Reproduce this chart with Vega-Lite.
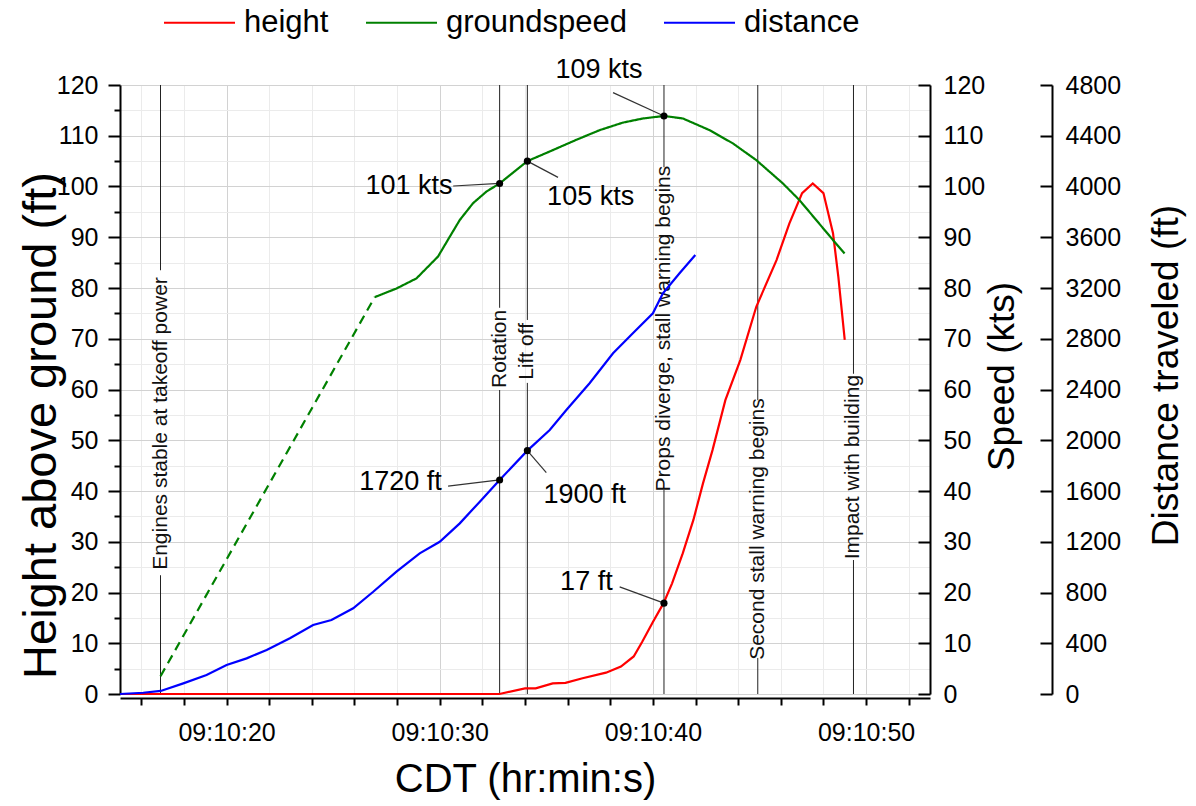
{
  "$schema": "https://vega.github.io/schema/vega-lite/v6.json",
  "width": 810,
  "height": 609,
  "autosize": "none",
  "padding": {"left": 120, "top": 85, "right": 266, "bottom": 112},
  "background": "white",
  "config": {
    "font": "Liberation Sans",
    "view": {"stroke": null},
    "axis": {
      "domainColor": "#000", "domainWidth": 2, "tickColor": "#000", "tickWidth": 2,
      "labelFont": "Liberation Sans", "labelFontSize": 25, "labelColor": "#000",
      "titleFont": "Liberation Sans", "titleFontWeight": "normal", "titleColor": "#000",
      "labelOverlap": false, "labelFlush": false, "labelBound": false
    },
    "legend": {
      "orient": "none", "direction": "horizontal", "legendX": 43, "legendY": -99,
      "symbolType": "stroke", "symbolSize": 5041, "symbolStrokeWidth": 2,
      "labelFont": "Liberation Sans", "labelFontSize": 31, "labelColor": "#000", "labelLimit": 0,
      "labelOffset": 8, "columnPadding": 33, "padding": 0
    }
  },
  "datasets": {
    "height": [
      {"t": 15, "v": 0, "series": "height"}, {"t": 20, "v": 0, "series": "height"}, {"t": 25, "v": 0, "series": "height"},
      {"t": 30, "v": 0, "series": "height"}, {"t": 32.8, "v": 0, "series": "height"}, {"t": 34.0, "v": 1.1, "series": "height"},
      {"t": 34.5, "v": 1.1, "series": "height"}, {"t": 35.3, "v": 2.1, "series": "height"}, {"t": 35.9, "v": 2.2, "series": "height"},
      {"t": 36.7, "v": 3.1, "series": "height"}, {"t": 37.8, "v": 4.2, "series": "height"}, {"t": 38.5, "v": 5.4, "series": "height"},
      {"t": 39.1, "v": 7.4, "series": "height"}, {"t": 39.5, "v": 10.3, "series": "height"}, {"t": 40.0, "v": 14.2, "series": "height"},
      {"t": 40.5, "v": 17.9, "series": "height"}, {"t": 40.9, "v": 21.8, "series": "height"}, {"t": 41.4, "v": 27.7, "series": "height"},
      {"t": 41.9, "v": 34.3, "series": "height"}, {"t": 42.35, "v": 41.5, "series": "height"}, {"t": 42.8, "v": 48.1, "series": "height"},
      {"t": 43.4, "v": 57.9, "series": "height"}, {"t": 44.1, "v": 65.8, "series": "height"}, {"t": 44.85, "v": 76.3, "series": "height"},
      {"t": 45.8, "v": 85.5, "series": "height"}, {"t": 46.4, "v": 92.7, "series": "height"}, {"t": 47.0, "v": 98.7, "series": "height"},
      {"t": 47.5, "v": 100.6, "series": "height"}, {"t": 48.0, "v": 98.7, "series": "height"}, {"t": 48.45, "v": 90.8, "series": "height"},
      {"t": 48.7, "v": 82.2, "series": "height"}, {"t": 49.0, "v": 69.8, "series": "height"}
    ],
    "speed": [
      {"t": 16.9, "v": 3.5, "series": "groundspeed", "seg": "dashed"},
      {"t": 26.95, "v": 78.2, "series": "groundspeed", "seg": "dashed"},
      {"t": 26.95, "v": 78.2, "series": "groundspeed", "seg": "solid"},
      {"t": 27.97, "v": 79.9, "series": "groundspeed", "seg": "solid"},
      {"t": 28.91, "v": 81.9, "series": "groundspeed", "seg": "solid"},
      {"t": 29.92, "v": 86.2, "series": "groundspeed", "seg": "solid"},
      {"t": 30.47, "v": 90.1, "series": "groundspeed", "seg": "solid"},
      {"t": 30.94, "v": 93.4, "series": "groundspeed", "seg": "solid"},
      {"t": 31.56, "v": 96.7, "series": "groundspeed", "seg": "solid"},
      {"t": 32.19, "v": 99.0, "series": "groundspeed", "seg": "solid"},
      {"t": 32.81, "v": 100.6, "series": "groundspeed", "seg": "solid"},
      {"t": 34.11, "v": 105.0, "series": "groundspeed", "seg": "solid"},
      {"t": 35.16, "v": 106.9, "series": "groundspeed", "seg": "solid"},
      {"t": 36.41, "v": 109.2, "series": "groundspeed", "seg": "solid"},
      {"t": 37.5, "v": 111.1, "series": "groundspeed", "seg": "solid"},
      {"t": 38.6, "v": 112.6, "series": "groundspeed", "seg": "solid"},
      {"t": 39.53, "v": 113.4, "series": "groundspeed", "seg": "solid"},
      {"t": 40.52, "v": 113.9, "series": "groundspeed", "seg": "solid"},
      {"t": 41.41, "v": 113.4, "series": "groundspeed", "seg": "solid"},
      {"t": 42.66, "v": 111.1, "series": "groundspeed", "seg": "solid"},
      {"t": 43.75, "v": 108.5, "series": "groundspeed", "seg": "solid"},
      {"t": 44.85, "v": 105.2, "series": "groundspeed", "seg": "solid"},
      {"t": 46.1, "v": 100.6, "series": "groundspeed", "seg": "solid"},
      {"t": 46.88, "v": 97.3, "series": "groundspeed", "seg": "solid"},
      {"t": 47.66, "v": 93.4, "series": "groundspeed", "seg": "solid"},
      {"t": 48.44, "v": 89.5, "series": "groundspeed", "seg": "solid"},
      {"t": 48.99, "v": 86.8, "series": "groundspeed", "seg": "solid"}
    ],
    "distance": [
      {"t": 15, "v": 0, "series": "distance"}, {"t": 16.09, "v": 10, "series": "distance"}, {"t": 16.91, "v": 24, "series": "distance"},
      {"t": 17.97, "v": 84, "series": "distance"}, {"t": 19.06, "v": 150, "series": "distance"}, {"t": 20.0, "v": 229, "series": "distance"},
      {"t": 20.94, "v": 281, "series": "distance"}, {"t": 21.88, "v": 347, "series": "distance"}, {"t": 22.97, "v": 439, "series": "distance"},
      {"t": 24.06, "v": 544, "series": "distance"}, {"t": 24.92, "v": 583, "series": "distance"}, {"t": 25.94, "v": 676, "series": "distance"},
      {"t": 26.88, "v": 806, "series": "distance"}, {"t": 27.97, "v": 964, "series": "distance"}, {"t": 29.06, "v": 1109, "series": "distance"},
      {"t": 30.0, "v": 1200, "series": "distance"}, {"t": 30.94, "v": 1345, "series": "distance"}, {"t": 31.88, "v": 1516, "series": "distance"},
      {"t": 32.81, "v": 1687, "series": "distance"}, {"t": 34.11, "v": 1918, "series": "distance"}, {"t": 35.16, "v": 2081, "series": "distance"},
      {"t": 35.94, "v": 2238, "series": "distance"}, {"t": 37.03, "v": 2449, "series": "distance"}, {"t": 38.13, "v": 2685, "series": "distance"},
      {"t": 39.06, "v": 2843, "series": "distance"}, {"t": 40.0, "v": 3001, "series": "distance"}, {"t": 40.47, "v": 3158, "series": "distance"},
      {"t": 41.25, "v": 3316, "series": "distance"}, {"t": 41.99, "v": 3460, "series": "distance"}
    ],
    "eventSegments": [
      {"t": 16.9, "y1": 0, "y2": 23.4}, {"t": 16.9, "y1": 83.5, "y2": 120},
      {"t": 32.81, "y1": 0, "y2": 59.9}, {"t": 32.81, "y1": 76.1, "y2": 120},
      {"t": 34.11, "y1": 0, "y2": 61.3}, {"t": 34.11, "y1": 73.7, "y2": 120},
      {"t": 40.52, "y1": 0, "y2": 40.2}, {"t": 40.52, "y1": 103.8, "y2": 120},
      {"t": 44.92, "y1": 0, "y2": 7.1}, {"t": 44.92, "y1": 57.9, "y2": 120},
      {"t": 49.41, "y1": 0, "y2": 26.4}, {"t": 49.41, "y1": 63.1, "y2": 120}
    ],
    "eventLabels": [
      {"t": 16.9, "v": 53.3, "label": "Engines stable at takeoff power"},
      {"t": 32.81, "v": 68.0, "label": "Rotation"},
      {"t": 34.11, "v": 67.5, "label": "Lift off"},
      {"t": 40.52, "v": 72.0, "label": "Props diverge, stall warning begins"},
      {"t": 44.92, "v": 32.5, "label": "Second stall warning begins"},
      {"t": 49.41, "v": 44.7, "label": "Impact with building"}
    ],
    "heightDots": [{"t": 40.52, "v": 17.9}],
    "heightLeaders": [{"t": 38.44, "v": 21.1, "t2": 40.52, "v2": 17.9}],
    "heightLabels": [{"t": 36.88, "v": 22.1, "label": "17 ft"}],
    "speedDots": [{"t": 32.81, "v": 100.6}, {"t": 34.11, "v": 105.0}, {"t": 40.52, "v": 113.9}],
    "speedLeaders": [
      {"t": 30.63, "v": 100.1, "t2": 32.81, "v2": 100.6},
      {"t": 34.11, "v": 105.0, "t2": 35.55, "v2": 101.8},
      {"t": 38.13, "v": 118.5, "t2": 40.52, "v2": 113.9}
    ],
    "speedLabels": [
      {"t": 28.56, "v": 100.1, "label": "101 kts"},
      {"t": 37.08, "v": 98.0, "label": "105 kts"},
      {"t": 37.47, "v": 123.0, "label": "109 kts"}
    ],
    "distDots": [{"t": 32.81, "v": 1687}, {"t": 34.11, "v": 1918}],
    "distLeaders": [
      {"t": 30.39, "v": 1639, "t2": 32.81, "v2": 1687},
      {"t": 34.11, "v": 1918, "t2": 35.0, "v2": 1744}
    ],
    "distLabels": [
      {"t": 28.16, "v": 1673, "label": "1720 ft"},
      {"t": 36.8, "v": 1569, "label": "1900 ft"}
    ]
  },
  "layer": [
    {
      "data": {"name": "eventSegments"},
      "mark": {"type": "rule", "color": "#222", "strokeWidth": 1},
      "encoding": {
        "x": {"field": "t", "type": "quantitative", "scale": {"domain": [15, 53], "nice": false, "zero": false},
          "axis": {"orient": "bottom", "offset": 4, "values": [16, 18, 22, 24, 26, 28, 32, 34, 36, 38, 42, 44, 46, 48, 52], "labels": false, "domain": false, "tickSize": 7, "grid": true, "gridColor": "#ebebeb", "gridWidth": 1, "title": null}},
        "y": {"field": "y1", "type": "quantitative", "scale": {"domain": [0, 120], "nice": false, "zero": false},
          "axis": {"orient": "left", "values": [5, 15, 25, 35, 45, 55, 65, 75, 85, 95, 105, 115], "labels": false, "domain": false, "tickSize": 6, "grid": true, "gridColor": "#ebebeb", "gridWidth": 1, "title": null}},
        "y2": {"field": "y2"}
      }
    },
    {
      "data": {"name": "eventLabels"},
      "mark": {"type": "text", "angle": 270, "align": "center", "baseline": "middle", "fontSize": 21, "font": "Liberation Sans", "color": "#111"},
      "encoding": {
        "x": {"field": "t", "type": "quantitative", "scale": {"domain": [15, 53], "nice": false, "zero": false}, "axis": null},
        "y": {"field": "v", "type": "quantitative", "scale": {"domain": [0, 120], "nice": false, "zero": false}, "axis": null},
        "text": {"field": "label"}
      }
    },
    {
      "data": {"name": "height"},
      "mark": {"type": "line", "strokeWidth": 2.2},
      "encoding": {
        "x": {"field": "t", "type": "quantitative", "scale": {"domain": [15, 53], "nice": false, "zero": false},
          "axis": {"orient": "bottom", "offset": 4, "values": [20, 30, 40, 50], "labelExpr": "'09:10:' + datum.value", "tickSize": 7, "labelPadding": 15, "grid": true, "gridColor": "#d2d2d2", "gridWidth": 1,
            "title": "CDT (hr:min:s)", "titleFontSize": 40, "titleX": 405, "titleY": 93, "titleAlign": "center", "titleBaseline": "alphabetic", "titleAngle": 0}},
        "y": {"field": "v", "type": "quantitative", "scale": {"domain": [0, 120], "nice": false, "zero": false},
          "axis": {"orient": "left", "values": [0, 10, 20, 30, 40, 50, 60, 70, 80, 90, 100, 110, 120], "tickSize": 12, "labelPadding": 10, "grid": true, "gridColor": "#d2d2d2", "gridWidth": 1,
            "title": "Height above ground (ft)", "titleFontSize": 47, "titleAngle": 270, "titleX": -65, "titleY": 340, "titleAlign": "center", "titleBaseline": "alphabetic"}},
        "color": {"field": "series", "type": "nominal", "scale": {"domain": ["height", "groundspeed", "distance"], "range": ["#ff0000", "#008000", "#0000ff"]}, "legend": {"title": null}}
      }
    },
    {
      "data": {"name": "heightLeaders"},
      "mark": {"type": "rule", "color": "#333", "strokeWidth": 1.2},
      "encoding": {
        "x": {"field": "t", "type": "quantitative", "scale": {"domain": [15, 53], "nice": false, "zero": false}, "axis": null},
        "y": {"field": "v", "type": "quantitative", "scale": {"domain": [0, 120], "nice": false, "zero": false}, "axis": null},
        "x2": {"field": "t2"},
        "y2": {"field": "v2"}
      }
    },
    {
      "data": {"name": "heightDots"},
      "mark": {"type": "point", "filled": true, "color": "#000", "opacity": 1, "size": 50},
      "encoding": {
        "x": {"field": "t", "type": "quantitative", "scale": {"domain": [15, 53], "nice": false, "zero": false}, "axis": null},
        "y": {"field": "v", "type": "quantitative", "scale": {"domain": [0, 120], "nice": false, "zero": false}, "axis": null}
      }
    },
    {
      "data": {"name": "heightLabels"},
      "mark": {"type": "text", "align": "center", "baseline": "middle", "fontSize": 27, "font": "Liberation Sans", "color": "#000"},
      "encoding": {
        "x": {"field": "t", "type": "quantitative", "scale": {"domain": [15, 53], "nice": false, "zero": false}, "axis": null},
        "y": {"field": "v", "type": "quantitative", "scale": {"domain": [0, 120], "nice": false, "zero": false}, "axis": null},
        "text": {"field": "label"}
      }
    },
    {
      "data": {"name": "speed"},
      "mark": {"type": "line", "strokeWidth": 2.2},
      "encoding": {
        "x": {"field": "t", "type": "quantitative", "scale": {"domain": [15, 53], "nice": false, "zero": false}, "axis": null},
        "y": {"field": "v", "type": "quantitative", "scale": {"domain": [0, 120], "nice": false, "zero": false},
          "axis": {"orient": "right", "values": [0, 10, 20, 30, 40, 50, 60, 70, 80, 90, 100, 110, 120], "tickSize": -12, "labelPadding": 25, "grid": false,
            "title": "Speed (kts)", "titleFontSize": 37, "titleAngle": 270, "titleX": 83, "titleY": 291, "titleAlign": "center", "titleBaseline": "alphabetic"}},
        "color": {"field": "series", "type": "nominal", "scale": {"domain": ["height", "groundspeed", "distance"], "range": ["#ff0000", "#008000", "#0000ff"]}, "legend": {"title": null}},
        "detail": {"field": "seg"},
        "strokeDash": {"field": "seg", "type": "nominal", "scale": {"domain": ["solid", "dashed"], "range": [[1, 0], [9, 6]]}, "legend": null}
      }
    },
    {
      "data": {"name": "speedLeaders"},
      "mark": {"type": "rule", "color": "#333", "strokeWidth": 1.2},
      "encoding": {
        "x": {"field": "t", "type": "quantitative", "scale": {"domain": [15, 53], "nice": false, "zero": false}, "axis": null},
        "y": {"field": "v", "type": "quantitative", "scale": {"domain": [0, 120], "nice": false, "zero": false}, "axis": null},
        "x2": {"field": "t2"},
        "y2": {"field": "v2"}
      }
    },
    {
      "data": {"name": "speedDots"},
      "mark": {"type": "point", "filled": true, "color": "#000", "opacity": 1, "size": 50},
      "encoding": {
        "x": {"field": "t", "type": "quantitative", "scale": {"domain": [15, 53], "nice": false, "zero": false}, "axis": null},
        "y": {"field": "v", "type": "quantitative", "scale": {"domain": [0, 120], "nice": false, "zero": false}, "axis": null}
      }
    },
    {
      "data": {"name": "speedLabels"},
      "mark": {"type": "text", "align": "center", "baseline": "middle", "fontSize": 27, "font": "Liberation Sans", "color": "#000"},
      "encoding": {
        "x": {"field": "t", "type": "quantitative", "scale": {"domain": [15, 53], "nice": false, "zero": false}, "axis": null},
        "y": {"field": "v", "type": "quantitative", "scale": {"domain": [0, 120], "nice": false, "zero": false}, "axis": null},
        "text": {"field": "label"}
      }
    },
    {
      "data": {"name": "distance"},
      "mark": {"type": "line", "strokeWidth": 2.2},
      "encoding": {
        "x": {"field": "t", "type": "quantitative", "scale": {"domain": [15, 53], "nice": false, "zero": false}, "axis": null},
        "y": {"field": "v", "type": "quantitative", "scale": {"domain": [0, 4800], "nice": false, "zero": false},
          "axis": {"orient": "right", "offset": 122, "values": [0, 400, 800, 1200, 1600, 2000, 2400, 2800, 3200, 3600, 4000, 4400, 4800], "format": "d", "tickSize": -12, "labelPadding": 25, "grid": false,
            "title": "Distance traveled (ft)", "titleFontSize": 37, "titleAngle": 270, "titleX": 125, "titleY": 290, "titleAlign": "center", "titleBaseline": "alphabetic"}},
        "color": {"field": "series", "type": "nominal", "scale": {"domain": ["height", "groundspeed", "distance"], "range": ["#ff0000", "#008000", "#0000ff"]}, "legend": {"title": null}}
      }
    },
    {
      "data": {"name": "distLeaders"},
      "mark": {"type": "rule", "color": "#333", "strokeWidth": 1.2},
      "encoding": {
        "x": {"field": "t", "type": "quantitative", "scale": {"domain": [15, 53], "nice": false, "zero": false}, "axis": null},
        "y": {"field": "v", "type": "quantitative", "scale": {"domain": [0, 4800], "nice": false, "zero": false}, "axis": null},
        "x2": {"field": "t2"},
        "y2": {"field": "v2"}
      }
    },
    {
      "data": {"name": "distDots"},
      "mark": {"type": "point", "filled": true, "color": "#000", "opacity": 1, "size": 50},
      "encoding": {
        "x": {"field": "t", "type": "quantitative", "scale": {"domain": [15, 53], "nice": false, "zero": false}, "axis": null},
        "y": {"field": "v", "type": "quantitative", "scale": {"domain": [0, 4800], "nice": false, "zero": false}, "axis": null}
      }
    },
    {
      "data": {"name": "distLabels"},
      "mark": {"type": "text", "align": "center", "baseline": "middle", "fontSize": 27, "font": "Liberation Sans", "color": "#000"},
      "encoding": {
        "x": {"field": "t", "type": "quantitative", "scale": {"domain": [15, 53], "nice": false, "zero": false}, "axis": null},
        "y": {"field": "v", "type": "quantitative", "scale": {"domain": [0, 4800], "nice": false, "zero": false}, "axis": null},
        "text": {"field": "label"}
      }
    }
  ],
  "resolve": {"scale": {"y": "independent"}, "axis": {"x": "independent"}}
}
